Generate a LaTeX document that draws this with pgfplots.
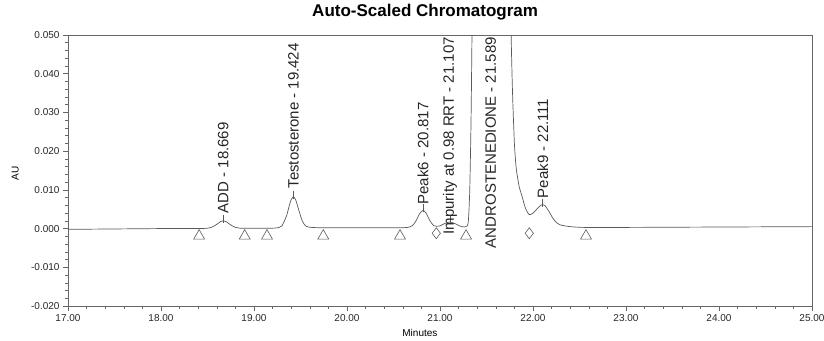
\documentclass[border=0pt]{standalone}
\usepackage{fontspec}
\setmainfont{Liberation Sans}
\usepackage{pgfplots}
\pgfplotsset{compat=1.18}
\definecolor{trace}{gray}{0.35}
\definecolor{frame}{gray}{0.40}
\begin{document}
\begin{tikzpicture}
\path[use as bounding box] (-68pt,-34pt) rectangle (756pt,306pt);
\begin{axis}[
  at={(0pt,0pt)}, anchor=south west,
  scale only axis, width=744pt, height=271pt,
  xmin=17, xmax=25, ymin=-0.02, ymax=0.05,
  xtick={17,18,19,20,21,22,23,24,25},
  ytick={-0.02,-0.01,0,0.01,0.02,0.03,0.04,0.05},
  minor x tick num=4, minor y tick num=4,
  xtick pos=bottom, ytick pos=left, tick align=outside,
  major tick length=5pt, minor tick length=3pt,
  scaled x ticks=false, scaled y ticks=false,
  axis line style={frame, line width=0.6pt},
  every tick/.style={frame, line width=0.5pt},
  /pgf/number format/assume math mode=true,
  xticklabel style={/pgf/number format/.cd, fixed, fixed zerofill, precision=2},
  yticklabel style={/pgf/number format/.cd, fixed, fixed zerofill, precision=3},
  tick label style={font=\fontsize{10}{12}\selectfont, text=black!85},
  xlabel={Minutes}, ylabel={AU},
  xlabel style={at={(0.473,-0.098)}, anchor=center, font=\fontsize{10}{12}\selectfont},
  ylabel style={at={(-0.071,0.49)}, anchor=center, rotate=0, font=\fontsize{10}{12}\selectfont},
  title={Auto-Scaled Chromatogram},
  title style={at={(0.48,1.062)}, anchor=center, font=\bfseries\fontsize{17}{20}\selectfont},
  clip mode=individual,
]
% chromatogram trace
\addplot[trace, line width=0.7pt, smooth, tension=0.4] coordinates {
(17.00,-0.0002) (17.50,-0.0001) (18.00,0.0000) (18.40,0.0000) (18.50,0.0001)
(18.55,0.0004) (18.60,0.0011) (18.64,0.0018) (18.669,0.0020) (18.70,0.0018)
(18.74,0.0011) (18.79,0.0004) (18.85,0.0001) (19.00,0.0001) (19.15,0.0001)
(19.20,0.0001) (19.25,0.0002) (19.30,0.0007) (19.35,0.0033) (19.38,0.0060)
(19.40,0.0075) (19.424,0.0082) (19.45,0.0073) (19.48,0.0049) (19.52,0.0019)
(19.56,0.0006) (19.62,0.0003) (19.75,0.0002) (20.00,0.0002) (20.30,0.0002)
(20.55,0.0002) (20.65,0.0003) (20.70,0.0007) (20.74,0.0019) (20.78,0.0038)
(20.817,0.0047) (20.85,0.0040) (20.89,0.0021) (20.93,0.0008) (20.97,0.0006)
(21.00,0.0007) (21.05,0.0013) (21.107,0.0017) (21.16,0.0013) (21.21,0.0007)
(21.26,0.0004) (21.29,0.0006) (21.305,0.0020) (21.32,0.0100) (21.335,0.0300)
(21.35,0.0650)
};
\addplot[trace, line width=0.7pt] coordinates {
(21.35,0.0650) (21.589,0.3000) (21.755,0.0700)
};
\addplot[trace, line width=0.7pt, smooth, tension=0.4] coordinates {
(21.755,0.0700) (21.765,0.0500) (21.78,0.0350) (21.80,0.0220) (21.82,0.0155)
(21.85,0.0110) (21.88,0.0085) (21.92,0.0052) (21.96,0.0036) (22.00,0.0040)
(22.04,0.0050) (22.08,0.0060) (22.105,0.0062) (22.13,0.0059) (22.17,0.0045)
(22.21,0.0028) (22.25,0.0016) (22.30,0.0009) (22.40,0.0005) (22.55,0.0003)
(23.00,0.0003) (24.00,0.0004) (25.00,0.0005)
};
% peak start/end markers
\addplot[only marks, mark=triangle, mark size=6.3pt, trace, line width=0.6pt, mark options={fill=white}] coordinates {
(18.41,-0.0019) (18.90,-0.0019) (19.14,-0.0019) (19.745,-0.0019) (20.57,-0.0019) (21.28,-0.0019) (22.57,-0.0019)
};
\addplot[only marks, mark=diamond, mark size=5.5pt, trace, line width=0.6pt, mark options={fill=white}] coordinates {
(20.96,-0.0012) (21.96,-0.0012)
};
% apex ticks
\addplot[only marks, mark=|, mark size=4pt, trace, line width=0.6pt] coordinates {
(18.669,0.0025) (19.424,0.0087) (20.817,0.0052) (21.107,0.0022) (22.105,0.0067)
};
% peak labels
\begin{scope}[every node/.style={rotate=90, inner sep=0pt, font=\fontsize{15}{18}\selectfont, text=black!85}]
\node[anchor=west] at (axis cs:18.669,0.0039) {ADD - 18.669};
\node[anchor=west] at (axis cs:19.424,0.0103) {Testosterone - 19.424};
\node[anchor=west] at (axis cs:20.817,0.0062) {Peak6 - 20.817};
\node[anchor=east] at (axis cs:21.107,0.0495) {Impurity at 0.98 RRT - 21.107};
\node[anchor=east] at (axis cs:21.545,0.0495) {ANDROSTENEDIONE - 21.589};
\node[anchor=west] at (axis cs:22.105,0.0078) {Peak9 - 22.111};
\end{scope}
\end{axis}
\end{tikzpicture}
\end{document}
